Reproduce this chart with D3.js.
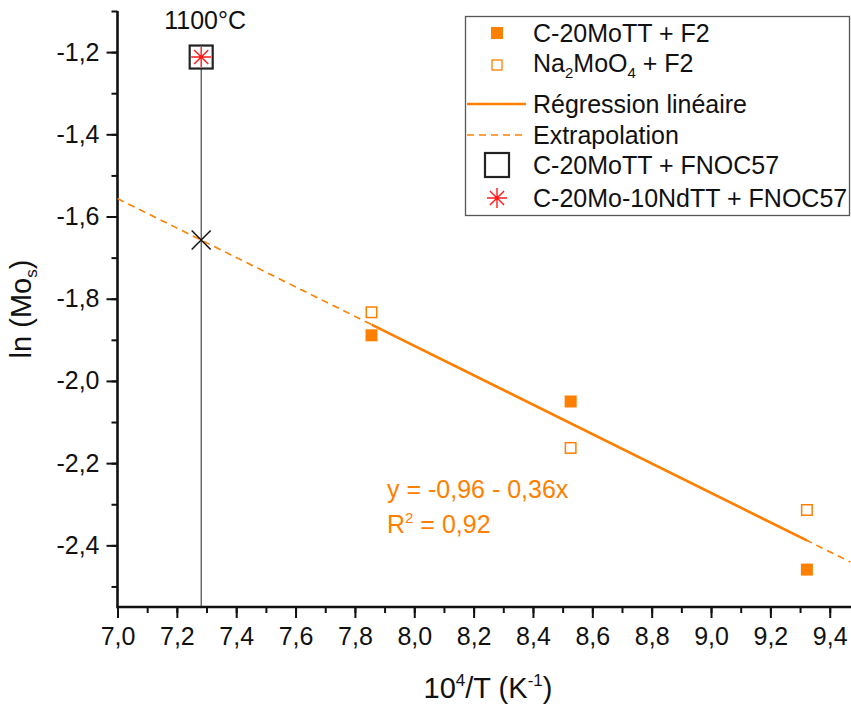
<!DOCTYPE html>
<html>
<head>
<meta charset="utf-8">
<script src="https://cdn.jsdelivr.net/npm/d3@7/dist/d3.min.js"></script>
<style>
  html, body { margin: 0; padding: 0; background: #fff; }
  svg { display: block; font-family: Arial, "Liberation Sans", sans-serif; }
</style>
</head>
<body>
<svg id="chart" width="851" height="707"></svg>
<script>
// ---- data ----
const xC20F2 = [7.856, 8.527, 9.323];
const yC20F2 = [-1.889, -2.050, -2.459];
const xNaF2 = [7.856, 8.527, 9.323];
const yNaF2 = [-1.833, -2.163, -2.314];
const xFNOC = [7.282];
const yC20FNOC = [-1.212];
const yNdFNOC = [-1.212];
const tempLabel = "1100°C";
const xTickValues = [7.0, 7.2, 7.4, 7.6, 7.8, 8.0, 8.2, 8.4, 8.6, 8.8, 9.0, 9.2, 9.4];
const yTickValues = [-2.4, -2.2, -2.0, -1.8, -1.6, -1.4, -1.2];
const eqLabel = "y = -0,96 - 0,36x";
const r2Value = "0,92";

const ORANGE = "#ff7f00";
const RED = "#ff1a1a";

const svg = d3.select("#chart");
const W = 851, H = 707;
const margin = { left: 117.5, right: 0.5, top: 11, bottom: 100 };

const x = d3.scaleLinear().domain([7.0, 9.47]).range([margin.left, W - margin.right]);
const y = d3.scaleLinear().domain([-2.55, -1.1]).range([607, margin.top]);

const fmt = d => d3.format(".1f")(d).replace(".", ",").replace("−", "-");
const TF = 25;

// ---- axes ----
const xMinor = d3.range(7.0, 9.47, 0.1).map(v => +v.toFixed(2));
const yMinor = d3.range(-2.5, -1.09, 0.1).map(v => +v.toFixed(2));

const gx = svg.append("g").attr("transform", `translate(0,${y.range()[0]})`);
gx.call(d3.axisBottom(x).tickValues(xMinor).tickSize(6).tickFormat(""));
gx.call(g => g.select(".domain").remove());
const gxMaj = svg.append("g").attr("transform", `translate(0,${y.range()[0]})`)
  .call(d3.axisBottom(x).tickValues(xTickValues).tickSize(11).tickPadding(9).tickFormat(fmt));
gxMaj.select(".domain").remove();
gxMaj.selectAll("text").attr("font-size", TF).attr("fill", "#111");

const gy = svg.append("g").attr("transform", `translate(${x.range()[0]},0)`);
gy.call(d3.axisLeft(y).tickValues(yMinor).tickSize(6).tickFormat(""));
gy.select(".domain").remove();
const gyMaj = svg.append("g").attr("transform", `translate(${x.range()[0]},0)`)
  .call(d3.axisLeft(y).tickValues(yTickValues).tickSize(11).tickPadding(7).tickFormat(fmt));
gyMaj.select(".domain").remove();
gyMaj.selectAll("text").attr("font-size", TF).attr("fill", "#111");
svg.selectAll(".tick line").attr("stroke", "#111").attr("stroke-width", 2);

// axis lines
svg.append("line").attr("x1", x.range()[0]).attr("x2", W).attr("y1", y.range()[0]).attr("y2", y.range()[0])
  .attr("stroke", "#111").attr("stroke-width", 2.6);
svg.append("line").attr("x1", x.range()[0]).attr("x2", x.range()[0]).attr("y1", y.range()[1]).attr("y2", y.range()[0] + 1.3)
  .attr("stroke", "#111").attr("stroke-width", 2.6);

// axis titles
const xt = svg.append("text").attr("x", 488).attr("y", 698).attr("text-anchor", "middle")
  .attr("font-size", 29).attr("fill", "#111");
xt.append("tspan").text("10");
xt.append("tspan").attr("font-size", 17).attr("dy", -12).text("4");
xt.append("tspan").attr("dy", 12).text("/T (K");
xt.append("tspan").attr("font-size", 17).attr("dy", -12).text("-1");
xt.append("tspan").attr("dy", 12).text(")");

const yt = svg.append("text").attr("transform", `translate(31,${(y.range()[0] + y.range()[1]) / 2}) rotate(-90)`)
  .attr("text-anchor", "middle").attr("font-size", 29).attr("fill", "#111");
yt.append("tspan").text("ln (Mo");
yt.append("tspan").attr("font-size", 17).attr("dy", 6).text("s");
yt.append("tspan").attr("dy", -6).text(")");

// ---- regression (least squares over all six points) ----
const allX = xC20F2.concat(xNaF2), allY = yC20F2.concat(yNaF2);
const mx = d3.mean(allX), my = d3.mean(allY);
const slope = d3.sum(allX, (v, i) => (v - mx) * (allY[i] - my)) / d3.sum(allX, v => (v - mx) ** 2);
const intercept = my - slope * mx;
const fit = v => intercept + slope * v;
const line = d3.line().x(d => x(d)).y(d => y(fit(d)));

svg.append("path").attr("d", line(x.domain())).attr("fill", "none")
  .attr("stroke", ORANGE).attr("stroke-width", 1.6).attr("stroke-dasharray", "7,5");
svg.append("path").attr("d", line(d3.extent(allX))).attr("fill", "none")
  .attr("stroke", ORANGE).attr("stroke-width", 2.6);

// vertical line at 1100°C
svg.append("line").attr("x1", x(xFNOC[0])).attr("x2", x(xFNOC[0]))
  .attr("y1", y(yC20FNOC[0])).attr("y2", y.range()[0])
  .attr("stroke", "#222").attr("stroke-width", 1);

function cross(g, cx, cy, r, color, sw) {
  g.append("path").attr("d", `M${cx - r},${cy - r}L${cx + r},${cy + r}M${cx - r},${cy + r}L${cx + r},${cy - r}`)
    .attr("stroke", color).attr("stroke-width", sw).attr("fill", "none");
}
function asterisk(g, cx, cy, r, color, sw) {
  const d = r * Math.SQRT1_2;
  g.append("path").attr("d",
    `M${cx - r},${cy}L${cx + r},${cy}M${cx},${cy - r}L${cx},${cy + r}` +
    `M${cx - d},${cy - d}L${cx + d},${cy + d}M${cx - d},${cy + d}L${cx + d},${cy - d}`)
    .attr("stroke", color).attr("stroke-width", sw).attr("fill", "none");
  g.append("circle").attr("cx", cx).attr("cy", cy).attr("r", 1.6).attr("fill", color);
}
// extrapolated point (X)
cross(svg, x(xFNOC[0]), y(fit(xFNOC[0])), 9.5, "#111", 1.5);

// data markers
const S = 12;
svg.append("g").selectAll("rect").data(xC20F2).join("rect")
  .attr("x", (d) => x(d) - S / 2).attr("y", (d, i) => y(yC20F2[i]) - S / 2)
  .attr("width", S).attr("height", S).attr("fill", ORANGE);
svg.append("g").selectAll("rect").data(xNaF2).join("rect")
  .attr("x", (d) => x(d) - (S - 1.5) / 2).attr("y", (d, i) => y(yNaF2[i]) - (S - 1.5) / 2)
  .attr("width", S - 1.5).attr("height", S - 1.5).attr("fill", "#fff")
  .attr("stroke", ORANGE).attr("stroke-width", 1.5);

// FNOC57 markers
const B = 23;
svg.append("rect").attr("x", x(xFNOC[0]) - B / 2).attr("y", y(yC20FNOC[0]) - B / 2)
  .attr("width", B).attr("height", B).attr("fill", "#fff").attr("stroke", "#222").attr("stroke-width", 2.2);
asterisk(svg, x(xFNOC[0]), y(yNdFNOC[0]), 10, RED, 1.4);

svg.append("text").attr("x", x(xFNOC[0]) + 4).attr("y", 29).attr("text-anchor", "middle")
  .attr("font-size", 25).attr("fill", "#111").text(tempLabel);

// equation
const eq = svg.append("g").attr("fill", ORANGE).attr("font-size", 25);
eq.append("text").attr("x", 387).attr("y", 498).text(eqLabel);
const r2 = eq.append("text").attr("x", 387).attr("y", 533);
r2.append("tspan").text("R");
r2.append("tspan").attr("font-size", 15).attr("dy", -10).text("2");
r2.append("tspan").attr("dy", 10).text(" = " + r2Value);

// ---- legend ----
const lg = svg.append("g");
lg.append("rect").attr("x", 465.5).attr("y", 16.5).attr("width", 384).attr("height", 199)
  .attr("fill", "#fff").attr("stroke", "#555").attr("stroke-width", 1.3);
const lx = 497, tx = 533, fs = 25;
const rows = [33, 65, 104, 135, 165, 198];
lg.append("rect").attr("x", lx - 6).attr("y", rows[0] - 6).attr("width", 12).attr("height", 12).attr("fill", ORANGE);
lg.append("rect").attr("x", lx - 5).attr("y", rows[1] - 5).attr("width", 10).attr("height", 10)
  .attr("fill", "#fff").attr("stroke", ORANGE).attr("stroke-width", 1.3);
lg.append("line").attr("x1", 467).attr("x2", 526).attr("y1", rows[2]).attr("y2", rows[2])
  .attr("stroke", ORANGE).attr("stroke-width", 2.6);
lg.append("line").attr("x1", 467).attr("x2", 526).attr("y1", rows[3]).attr("y2", rows[3])
  .attr("stroke", ORANGE).attr("stroke-width", 1.6).attr("stroke-dasharray", "7,5");
lg.append("rect").attr("x", lx - 12).attr("y", rows[4] - 12).attr("width", 24).attr("height", 24)
  .attr("fill", "none").attr("stroke", "#222").attr("stroke-width", 2.2);
asterisk(lg, lx, rows[5], 10, RED, 1.4);

const legendText = lg.append("g").attr("font-size", fs).attr("fill", "#111");
const bl = r => r + fs * 0.35;
legendText.append("text").attr("x", tx).attr("y", bl(rows[0])).text("C-20MoTT + F2");
const t2 = legendText.append("text").attr("x", tx).attr("y", bl(rows[1]) - 2);
t2.append("tspan").text("Na");
t2.append("tspan").attr("font-size", 15).attr("dy", 6).text("2");
t2.append("tspan").attr("dy", -6).text("MoO");
t2.append("tspan").attr("font-size", 15).attr("dy", 6).text("4");
t2.append("tspan").attr("dy", -6).text(" + F2");
legendText.append("text").attr("x", tx).attr("y", bl(rows[2])).text("Régression linéaire");
legendText.append("text").attr("x", tx).attr("y", bl(rows[3])).text("Extrapolation");
legendText.append("text").attr("x", tx).attr("y", bl(rows[4])).text("C-20MoTT + FNOC57");
legendText.append("text").attr("x", tx).attr("y", bl(rows[5])).text("C-20Mo-10NdTT + FNOC57");
</script>
</body>
</html>
